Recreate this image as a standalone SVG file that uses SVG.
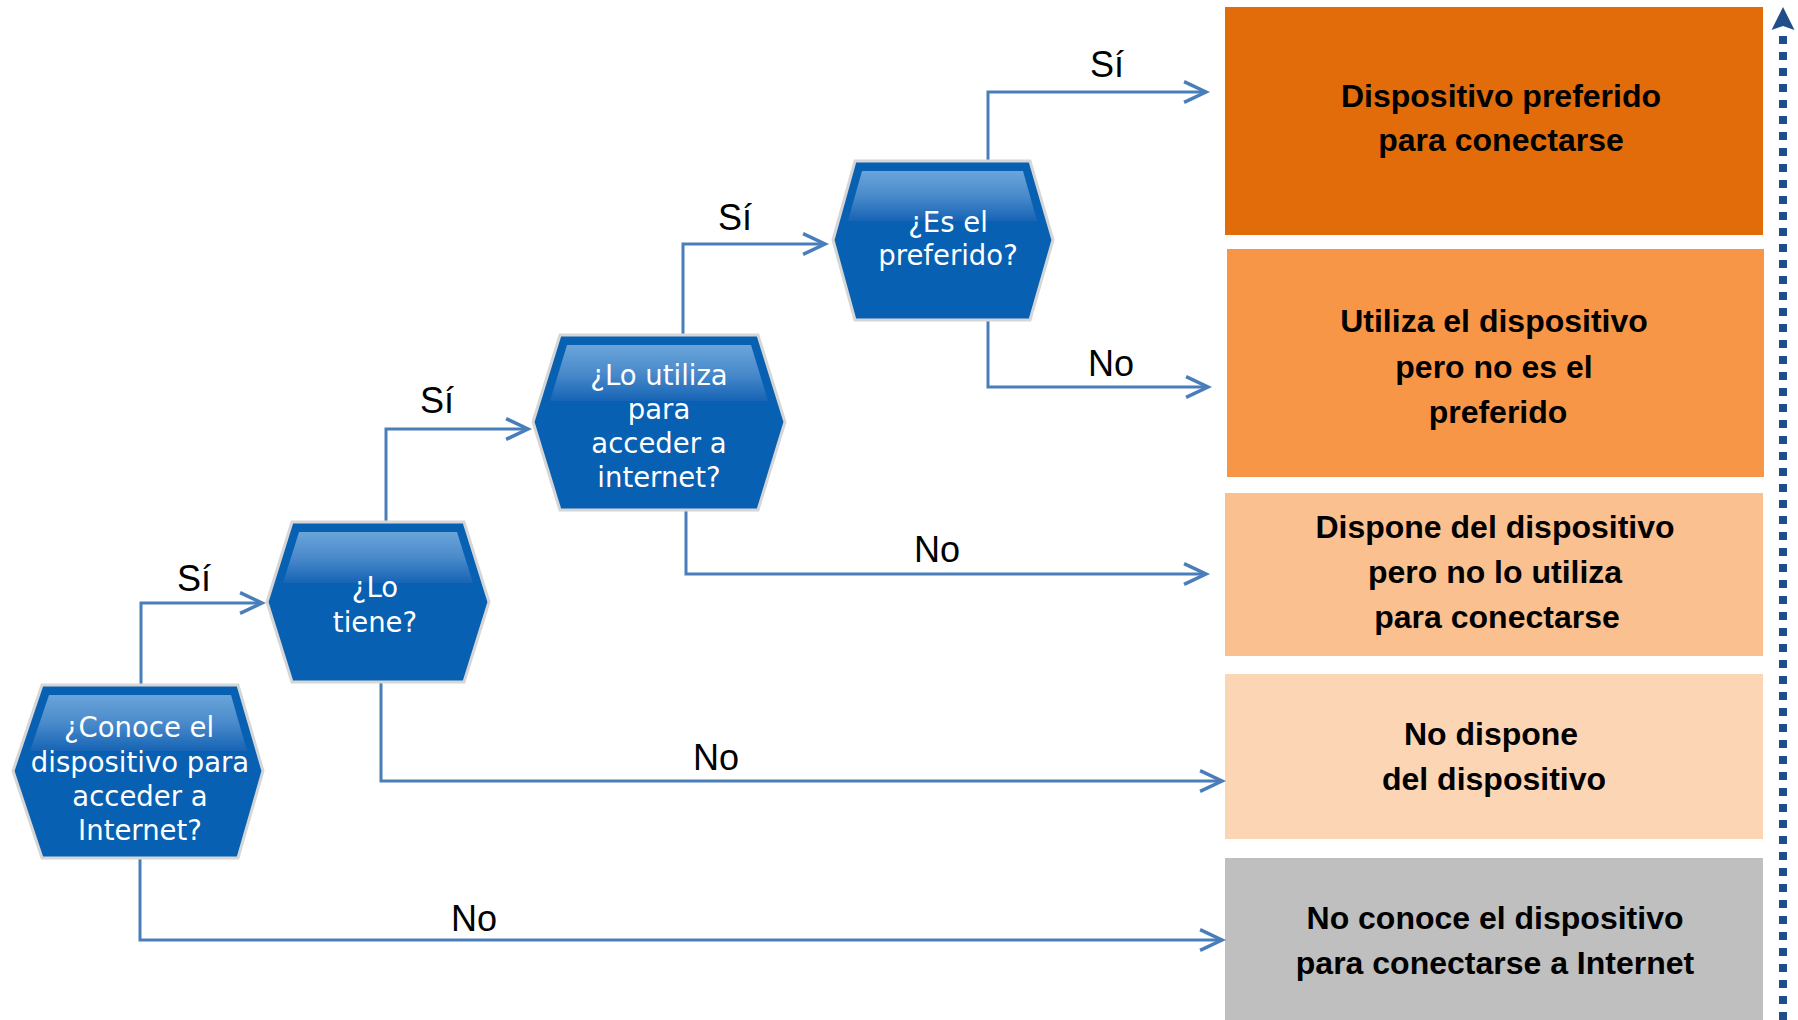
<svg xmlns="http://www.w3.org/2000/svg" width="1798" height="1020" viewBox="0 0 1798 1020">
<defs>
<linearGradient id="hl" x1="0" y1="0" x2="0" y2="1">
<stop offset="0" stop-color="#6aa5d9"/>
<stop offset="0.5" stop-color="#4a8acb"/>
<stop offset="1" stop-color="#1664b5"/>
</linearGradient>
<marker id="chev" markerUnits="userSpaceOnUse" markerWidth="30" markerHeight="30" viewBox="-22 -12 26 24" refX="0" refY="0" orient="auto">
<path d="M-19,-9 L0,0 L-19,9" fill="none" stroke="#4a7ebb" stroke-width="3"/>
</marker>
<marker id="stealth" markerUnits="userSpaceOnUse" markerWidth="30" markerHeight="30" viewBox="-4 -14 30 28" refX="0" refY="0" orient="auto">
<path d="M0,-11.5 L23,0 L0,11.5 L4,0 Z" fill="#1f4e8a"/>
</marker>
</defs>
<style>
.hex{fill:#0860b2;stroke:#d6d6d6;stroke-width:3}
.hl{fill:url(#hl)}
.ht{font-family:"DejaVu Sans",Verdana,sans-serif;font-size:27.5px;fill:#ffffff;text-anchor:middle}
.bt{font-family:"Liberation Sans",Arial,sans-serif;font-size:32px;font-weight:bold;fill:#000000;text-anchor:middle}
.lb{font-family:"Liberation Sans",Arial,sans-serif;font-size:36px;fill:#000000;text-anchor:middle}
.cn{fill:none;stroke:#4a7ebb;stroke-width:3;marker-end:url(#chev)}
</style>
<rect width="1798" height="1020" fill="#ffffff"/>

<g id="box-preferido">
<rect x="1225" y="7" width="538" height="228" fill="#e36c0a"/>
<text class="bt" x="1501" y="107">Dispositivo preferido</text>
<text class="bt" x="1501" y="151">para conectarse</text>
</g>
<g id="box-utiliza">
<rect x="1227" y="249" width="537" height="228" fill="#f79646"/>
<text class="bt" x="1494" y="332">Utiliza el dispositivo</text>
<text class="bt" x="1494" y="378">pero no es el</text>
<text class="bt" x="1498" y="423">preferido</text>
</g>
<g id="box-dispone">
<rect x="1225" y="493" width="538" height="163" fill="#fac090"/>
<text class="bt" x="1495" y="538">Dispone del dispositivo</text>
<text class="bt" x="1495" y="583">pero no lo utiliza</text>
<text class="bt" x="1497" y="628">para conectarse</text>
</g>
<g id="box-nodispone">
<rect x="1225" y="674" width="538" height="165" fill="#fcd5b5"/>
<text class="bt" x="1491" y="745">No dispone</text>
<text class="bt" x="1494" y="790">del dispositivo</text>
</g>
<g id="box-noconoce">
<rect x="1225" y="858" width="538" height="162" fill="#bfbfbf"/>
<text class="bt" x="1495" y="929">No conoce el dispositivo</text>
<text class="bt" x="1495" y="974">para conectarse a Internet</text>
</g>

<g id="connectors">
<polyline class="cn" points="141,686 141,603 262,603"/>
<polyline class="cn" points="140,858 140,940 1222,940"/>
<polyline class="cn" points="386,522 386,429 528,429"/>
<polyline class="cn" points="381,682 381,781 1222,781"/>
<polyline class="cn" points="683,335 683,244 825,244"/>
<polyline class="cn" points="686,510 686,574 1206,574"/>
<polyline class="cn" points="988,161 988,92 1206,92"/>
<polyline class="cn" points="988,320 988,387 1208,387"/>
<line x1="1783" y1="1020" x2="1783" y2="30" stroke="#1f4e8a" stroke-width="8" stroke-dasharray="8 8" marker-end="url(#stealth)"/>
</g>

<g id="labels">
<text class="lb" x="1107" y="77">Sí</text>
<text class="lb" x="1111" y="376">No</text>
<text class="lb" x="735" y="230">Sí</text>
<text class="lb" x="937" y="562">No</text>
<text class="lb" x="437" y="413">Sí</text>
<text class="lb" x="716" y="770">No</text>
<text class="lb" x="194" y="591">Sí</text>
<text class="lb" x="474" y="931">No</text>
</g>

<g id="node-conoce">
<polygon class="hex" points="13,771 42,685 238,685 263,771 238,858 42,858"/>
<polygon class="hl" points="49,695 231,695 247,751 30,751"/>
<text class="ht" x="139" y="737">¿Conoce el</text>
<text class="ht" x="140" y="772">dispositivo para</text>
<text class="ht" x="140" y="806">acceder a</text>
<text class="ht" x="140" y="840">Internet?</text>
</g>
<g id="node-tiene">
<polygon class="hex" points="267,602 292,522 464,522 489,602 464,682 292,682"/>
<polygon class="hl" points="299,532 457,532 473,583 283,583"/>
<text class="ht" x="375" y="597">¿Lo</text>
<text class="ht" x="375" y="632">tiene?</text>
</g>
<g id="node-utiliza">
<polygon class="hex" points="533,422 560,335 758,335 785,422 758,510 560,510"/>
<polygon class="hl" points="567,345 751,345 768,401 550,401"/>
<text class="ht" x="659" y="385">¿Lo utiliza</text>
<text class="ht" x="659" y="419">para</text>
<text class="ht" x="659" y="453">acceder a</text>
<text class="ht" x="659" y="487">internet?</text>
</g>
<g id="node-preferido">
<polygon class="hex" points="833,240 855,161 1030,161 1053,240 1030,320 855,320"/>
<polygon class="hl" points="862,171 1023,171 1037,221 848,221"/>
<text class="ht" x="948" y="232">¿Es el</text>
<text class="ht" x="948" y="265">preferido?</text>
</g>
</svg>
